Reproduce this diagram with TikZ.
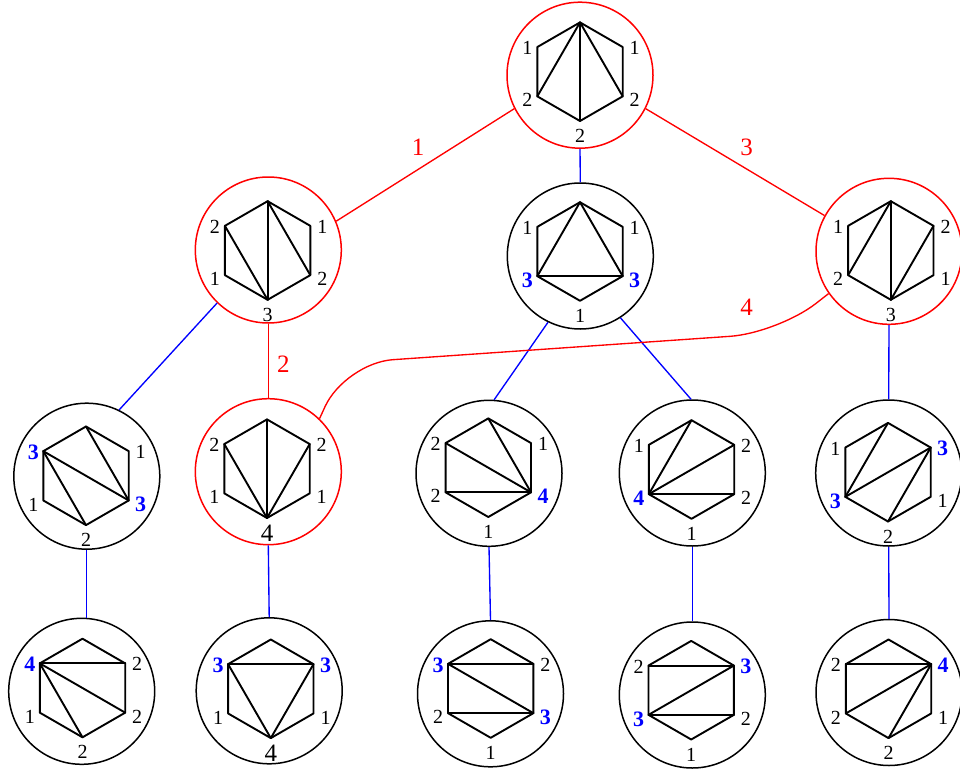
\documentclass[tikz,border=0pt]{standalone}
\usepackage{fontspec}
\setmainfont{Liberation Serif}
\newcommand\hexa[3]{%
  \coordinate (#1-T) at (#2,#3-49.3);
  \coordinate (#1-UR) at (#2+42.7,#3-24.65);
  \coordinate (#1-LR) at (#2+42.7,#3+24.65);
  \coordinate (#1-B) at (#2,#3+49.3);
  \coordinate (#1-LL) at (#2-42.7,#3+24.65);
  \coordinate (#1-UL) at (#2-42.7,#3-24.65);
  \draw[hexline] (#1-T) -- (#1-UR) -- (#1-LR) -- (#1-B) -- (#1-LL) -- (#1-UL) -- cycle;}
\newcommand\labs[6]{%
  \node[lab] (#1-lUL) at ([shift={(-10,1)}]#1-UL) {#2};
  \node[lab] (#1-lUR) at ([shift={(12,1)}]#1-UR) {#3};
  \node[lab] (#1-lLL) at ([shift={(-10,4)}]#1-LL) {#4};
  \node[lab] (#1-lLR) at ([shift={(12,4)}]#1-LR) {#5};
  \node[lab] (#1-lB) at ([shift={(0,15)}]#1-B) {#6};}
\newcommand\diag[3]{\draw[hexline] (#1-#2) -- (#1-#3);}
\newcommand\blu[1]{\textcolor{blue}{\fontsize{22}{26}\selectfont\bfseries #1}}
\newcommand\bigfour{{\fontsize{25}{30}\selectfont 4}}
\begin{document}
\begin{tikzpicture}[x=1pt,y=-1pt,
  hexline/.style={line width=1.9pt, line join=round, line cap=round},
  ring/.style={circle, draw, line width=1.5pt, minimum size=146pt, inner sep=0pt},
  redring/.style={ring, draw=red},
  lab/.style={inner sep=0pt, font=\fontsize{20}{24}\selectfont},
  elab/.style={inner sep=0pt, text=red, font=\fontsize{25}{30}\selectfont},
  blueedge/.style={blue, line width=1.35pt},
  rededge/.style={red, line width=1.35pt}]
\useasboundingbox (0,0) rectangle (960,773);

% circles
\node[redring] (n1) at (580,75.2) {};
\node[redring] (n2) at (268.3,250) {};
\node[ring] (n3) at (580.3,256) {};
\node[redring] (n4) at (889,251.3) {};
\node[ring] (n5) at (86.8,476.2) {};
\node[redring] (n6) at (268.3,471.7) {};
\node[ring] (n7) at (489,473.3) {};
\node[ring] (n8) at (692.3,473) {};
\node[ring] (n9) at (888.7,473) {};
\node[ring] (n10) at (81.7,691.3) {};
\node[ring] (n11) at (269.2,690.8) {};
\node[ring] (n12) at (490.5,693.8) {};
\node[ring] (n13) at (692.3,695) {};
\node[ring] (n14) at (889,692.5) {};

% hexagons
\hexa{h1}{580}{71.7}
\diag{h1}{T}{LL}\diag{h1}{T}{B}\diag{h1}{T}{LR}
\labs{h1}{1}{1}{2}{2}{2}

\hexa{h2}{267.6}{250.5}
\diag{h2}{UL}{B}\diag{h2}{T}{B}\diag{h2}{T}{LR}
\labs{h2}{2}{1}{1}{2}{3}

\hexa{h3}{580}{251.5}
\diag{h3}{T}{LL}\diag{h3}{T}{LR}\diag{h3}{LL}{LR}
\labs{h3}{1}{1}{\blu{3}}{\blu{3}}{1}

\hexa{h4}{890.8}{250.5}
\diag{h4}{T}{LL}\diag{h4}{T}{B}\diag{h4}{B}{UR}
\labs{h4}{1}{2}{2}{1}{3}

\hexa{h5}{86}{475.8}
\diag{h5}{T}{LR}\diag{h5}{UL}{LR}\diag{h5}{UL}{B}
\labs{h5}{\blu{3}}{1}{1}{\blu{3}}{2}

\hexa{h6}{267}{468.7}
\diag{h6}{UL}{B}\diag{h6}{T}{B}\diag{h6}{UR}{B}
\labs{h6}{2}{2}{1}{1}{\bigfour}

\hexa{h7}{488.3}{467.7}
\diag{h7}{T}{LR}\diag{h7}{UL}{LR}\diag{h7}{LL}{LR}
\labs{h7}{2}{1}{2}{\blu{4}}{1}

\hexa{h8}{691.5}{469.5}
\diag{h8}{T}{LL}\diag{h8}{UR}{LL}\diag{h8}{LL}{LR}
\labs{h8}{1}{2}{\blu{4}}{2}{1}

\hexa{h9}{888}{472.2}
\diag{h9}{T}{LL}\diag{h9}{UR}{LL}\diag{h9}{UR}{B}
\labs{h9}{1}{\blu{3}}{\blu{3}}{1}{2}

\hexa{h10}{82.5}{688}
\diag{h10}{UL}{UR}\diag{h10}{UL}{LR}\diag{h10}{UL}{B}
\labs{h10}{\blu{4}}{2}{1}{2}{2}

\hexa{h11}{270.8}{688.8}
\diag{h11}{UL}{UR}\diag{h11}{UL}{B}\diag{h11}{UR}{B}
\labs{h11}{\blu{3}}{\blu{3}}{1}{1}{\bigfour}

\hexa{h12}{490.7}{688.5}
\diag{h12}{UL}{UR}\diag{h12}{UL}{LR}\diag{h12}{LL}{LR}
\labs{h12}{\blu{3}}{2}{2}{\blu{3}}{1}

\hexa{h13}{691.2}{690.2}
\diag{h13}{UL}{UR}\diag{h13}{UR}{LL}\diag{h13}{LL}{LR}
\labs{h13}{2}{\blu{3}}{\blu{3}}{2}{1}

\hexa{h14}{888.5}{688.8}
\diag{h14}{UL}{UR}\diag{h14}{UR}{LL}\diag{h14}{UR}{B}
\labs{h14}{2}{\blu{4}}{2}{1}{2}

% connectors
\draw[rededge] (n1.207) -- (n2.23);
\draw[rededge] (n1.333) -- (n4.151);
\draw[blueedge] (n1.south) -- (n3.north);
\draw[blueedge] (n2.226) -- (n5.64);
\draw[rededge] (n2.south) -- (n6.north);
\draw[blueedge] (n3.244) -- (n7.86);
\draw[blueedge] (n3.303) -- (n8.91);
\draw[blueedge] (n4.south) -- (n9.north);
\coordinate (k1) at (778,333);
\coordinate (k2) at (345,363);
\draw[rededge, rounded corners=48pt] (n4.215) -- (k1) -- (k2) -- (n6.46);
\draw[blueedge] (n5.south) -- (n5.south |- n10.north);
\draw[blueedge] (n6.south) -- (n11.north);
\draw[blueedge] (n7.south) -- (n12.north);
\draw[blueedge] (n8.south) -- (n13.north);
\draw[blueedge] (n9.south) -- (n14.north);

% edge labels
\node[elab] (e1) at (418,147) {1};
\node[elab] (e3) at (746.7,147.3) {3};
\node[elab] (e2) at (283.3,364.3) {2};
\node[elab] (e4) at (746.7,307.3) {4};
\end{tikzpicture}
\end{document}
